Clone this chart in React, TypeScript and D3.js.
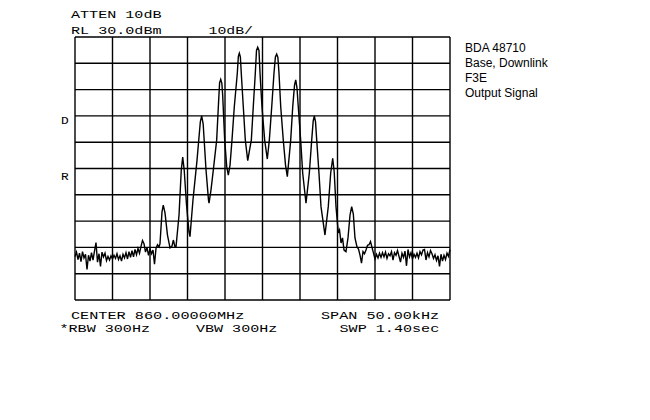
import React from "react";
import * as d3 from "d3";

// ---- data ----
const freqSpanKHz: [number, number] = [-25, 25]; // offset from center 860 MHz, SPAN 50 kHz
const refLevelDbm = 30;
const dbPerDiv = 10;
const gridDivisions = 10;

const noiseStepKHz = 0.2;
const leftNoiseStartKHz = -25.0;
const leftNoiseDbm = [
  -53.5, -51.8, -54.6, -52.2, -55.4, -51.6, -54.0, -52.6, -58.4, -53.0,
  -55.2, -52.0, -54.8, -51.4, -48.2, -55.6, -52.4, -57.2, -51.8, -53.6,
  -52.2, -55.0, -53.4, -54.8, -53.2, -54.4, -53.0, -54.2, -52.4, -54.6,
  -53.2, -55.2, -52.6, -54.0, -52.0, -54.4, -51.6, -53.8, -51.2, -53.6,
  -50.8, -52.8, -50.4, -52.2, -49.6, -47.4, -48.6, -51.8, -50.0, -53.0,
  -50.6, -52.4, -51.0, -56.4, -50.4, -49.0, -49.8,
];

const signalTrace: [number, number][] = [
  [-13.67, -48.7], [-13.4, -36.5], [-13.23, -33.9], [-13.0, -36.9], [-12.67, -45.3], [-12.33, -50.2],
  [-12.07, -49.5], [-11.89, -47.2], [-11.67, -49.8], [-11.53, -49.7],
  [-11.13, -37.7], [-10.83, -20.6], [-10.64, -15.7], [-10.44, -20.6], [-10.13, -33.9], [-9.8, -44.1], [-9.67, -45.9],
  [-9.27, -32.0], [-8.73, -16.8], [-8.29, -2.3], [-8.11, 0.0], [-7.91, -3.1], [-7.53, -20.6], [-7.2, -32.0], [-7.13, -33.2],
  [-6.87, -28.2], [-6.56, -20.6], [-6.11, -9.2], [-5.87, 4.5], [-5.72, 12.6], [-5.57, 13.9], [-5.42, 12.4], [-5.31, 7.9],
  [-5.04, -9.2], [-4.77, -19.3], [-4.56, -22.5],
  [-4.33, -18.7], [-4.07, -9.2], [-3.76, 3.5], [-3.36, 16.2], [-3.22, 22.6], [-3.09, 23.8], [-2.95, 22.4], [-2.83, 16.2],
  [-2.56, 3.5], [-2.29, -9.2], [-1.97, -17.0],
  [-1.73, -13.0], [-1.49, -9.2], [-1.23, 3.5], [-0.96, 16.2], [-0.8, 24.9], [-0.64, 26.1], [-0.47, 24.9], [-0.33, 16.2],
  [-0.07, 3.5], [0.29, -9.2], [0.64, -16.4],
  [0.91, -9.2], [1.23, 3.5], [1.53, 16.2], [1.72, 22.4], [1.89, 23.5], [2.05, 22.2], [2.2, 16.2], [2.43, 3.5],
  [2.77, -9.2], [3.07, -18.7], [3.31, -23.1],
  [3.76, -9.2], [4.03, 3.5], [4.27, 11.7], [4.43, 13.7], [4.6, 10.6], [4.77, 3.5], [5.09, -9.2], [5.36, -21.8], [5.8, -33.2],
  [6.24, -21.8], [6.56, -9.2], [6.76, -1.9], [6.91, 0.0], [7.07, -2.3], [7.23, -9.2], [7.53, -21.8], [7.8, -34.5], [8.33, -45.3],
  [8.77, -34.5], [9.09, -21.8], [9.36, -16.1], [9.56, -21.3], [9.8, -34.5], [10.11, -44.5], [10.27, -43.4],
  [10.47, -48.3], [10.67, -46.4], [10.87, -51.0], [11.13, -51.6],
  [11.4, -46.4], [11.67, -37.7], [11.89, -34.5], [12.11, -37.3], [12.33, -46.4], [12.6, -49.8],
];

const rightNoiseStartKHz = 12.8;
const rightNoiseDbm = [
  -50.6, -52.9, -56.0, -51.6, -52.4, -51.0, -49.2, -49.0, -47.8, -50.0,
  -52.2, -54.4, -52.6, -54.0, -52.2, -53.8, -52.0, -53.6, -51.8, -54.2,
  -52.4, -53.2, -51.6, -54.8, -52.0, -53.0, -51.2, -53.4, -55.6, -52.2,
  -53.8, -51.4, -57.0, -50.8, -53.6, -52.0, -54.4, -52.6, -53.8, -52.2,
  -54.0, -51.6, -52.8, -51.0, -50.8, -54.8, -52.0, -53.6, -51.2, -52.4,
  -54.2, -52.8, -55.0, -53.2, -57.2, -52.6, -55.2, -53.0, -54.6, -52.2,
  -53.4, -50.8,
];

const headerLine1 = "ATTEN 10dB";
const headerLine2 = "RL 30.0dBm";
const scaleLabel = "10dB/";
const sideMarks = ["D", "R"];
const footerLeft1 = "CENTER 860.00000MHz";
const footerRight1 = "SPAN 50.00kHz";
const footerLeft2 = "*RBW 300Hz";
const footerMid2 = "VBW 300Hz";
const footerRight2 = "SWP 1.40sec";
const noteLines = ["BDA 48710", "Base, Downlink", "F3E", "Output Signal"];

// ---- layout ----
const W = 650;
const H = 420;
const plot = { left: 75, top: 37, right: 450, bottom: 300 };
const PITCH = 9.2;
const MONO = "'Liberation Mono', 'DejaVu Sans Mono', monospace";

function MonoText({ x, y, text }: { x: number; y: number; text: string }) {
  return (
    <text
      x={x}
      y={y}
      fontFamily={MONO}
      fontSize={11.5}
      textLength={text.length * PITCH - 1.5}
      lengthAdjust="spacingAndGlyphs"
      fill="#000"
    >
      {text}
    </text>
  );
}

export default function App() {
  const x = d3.scaleLinear().domain(freqSpanKHz).range([plot.left, plot.right]);
  const y = d3
    .scaleLinear()
    .domain([refLevelDbm - dbPerDiv * gridDivisions, refLevelDbm])
    .range([plot.bottom, plot.top]);

  const trace: [number, number][] = [
    ...leftNoiseDbm.map((v, i) => [leftNoiseStartKHz + i * noiseStepKHz, v] as [number, number]),
    ...signalTrace,
    ...rightNoiseDbm.map((v, i) => [rightNoiseStartKHz + i * noiseStepKHz, v] as [number, number]),
  ];

  const line = d3
    .line<[number, number]>()
    .x((d) => x(d[0]))
    .y((d) => y(d[1]));

  const xTicks = d3.range(gridDivisions + 1).map(
    (i) => freqSpanKHz[0] + ((freqSpanKHz[1] - freqSpanKHz[0]) * i) / gridDivisions
  );
  const yTicks = d3.range(gridDivisions + 1).map((i) => refLevelDbm - dbPerDiv * i);

  return (
    <svg
      width={W}
      height={H}
      style={{ position: "absolute", left: 0, top: 0, background: "#fff" }}
    >
      <rect x={0} y={0} width={W} height={H} fill="#fff" />
      <g stroke="#000" strokeWidth={1.4}>
        {xTicks.map((t, i) => (
          <line key={"v" + i} x1={x(t)} x2={x(t)} y1={plot.top} y2={plot.bottom} />
        ))}
        {yTicks.map((t, i) => (
          <line key={"h" + i} x1={plot.left} x2={plot.right} y1={y(t)} y2={y(t)} />
        ))}
      </g>
      <path d={line(trace) || ""} fill="none" stroke="#000" strokeWidth={1.4} strokeLinejoin="miter" />

      <MonoText x={71} y={18} text={headerLine1} />
      <MonoText x={71} y={33.5} text={headerLine2} />
      <MonoText x={208.5} y={33.5} text={scaleLabel} />
      <MonoText x={61} y={123.5} text={sideMarks[0]} />
      <MonoText x={61} y={180} text={sideMarks[1]} />
      <MonoText x={71} y={318.5} text={footerLeft1} />
      <MonoText x={321} y={318.5} text={footerRight1} />
      <MonoText x={59.5} y={332} text={footerLeft2} />
      <MonoText x={196} y={332} text={footerMid2} />
      <MonoText x={339.5} y={332} text={footerRight2} />

      {noteLines.map((t, i) => (
        <text
          key={t}
          x={465}
          y={51.7 + i * 15}
          fontFamily="'Liberation Sans', Arial, sans-serif"
          fontSize={12}
          fill="#000"
        >
          {t}
        </text>
      ))}
    </svg>
  );
}
